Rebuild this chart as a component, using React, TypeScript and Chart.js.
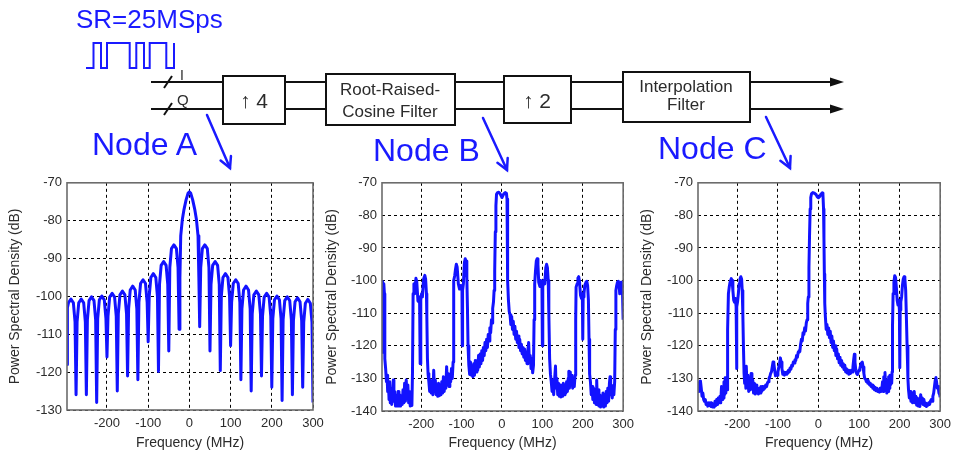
import { useEffect, useRef } from 'react';
import { Chart, registerables } from 'chart.js';

Chart.register(...registerables);

type Pt = [number, number];

// Frequency axis (MHz)
const FREQ_MIN = -297;
const FREQ_MAX = 300;
const freqTicks = [-200, -100, 0, 100, 200, 300];

// PSD axis limits (dB)
const psdMaxDb = -70;
const psdMinA = -130;
const psdMinBC = -140;

// Node A: NRZ symbols at 25 MSps, sinc-shaped spectrum with nulls every 25 MHz
const nodeA: Pt[] = [
  [-297, -118], [-296, -103], [-293.5, -101.7], [-287.5, -100.7], [-281.5, -101.7], [-277.5, -106.7], [-275, -126],
  [-272.5, -106.7], [-268.5, -101.7], [-262.5, -100.7], [-256.5, -101.7], [-252.5, -106.7], [-250, -126],
  [-247.5, -106.1], [-243.5, -101.1], [-237.5, -100.1], [-231.5, -101.1], [-227.5, -106.1], [-225, -128],
  [-222.5, -105.9], [-218.5, -100.9], [-212.5, -99.9], [-206.5, -100.9], [-202.5, -105.9], [-200, -116],
  [-197.5, -105.2], [-193.5, -100.2], [-187.5, -99.2], [-181.5, -100.2], [-177.5, -105.2], [-175, -125],
  [-172.5, -104.6], [-168.5, -99.6], [-162.5, -98.6], [-156.5, -99.6], [-152.5, -104.6], [-150, -121],
  [-147.5, -103.3], [-143.5, -98.3], [-137.5, -97.3], [-131.5, -98.3], [-127.5, -103.3], [-125, -122],
  [-122.5, -101.6], [-118.5, -96.6], [-112.5, -95.6], [-106.5, -96.6], [-102.5, -101.6], [-100, -112],
  [-97.5, -100], [-93.5, -95], [-87.5, -94], [-81.5, -95], [-77.5, -100], [-75, -119.8],
  [-72.5, -96.8], [-68.5, -91.8], [-62.5, -90.8], [-56.5, -91.8], [-52.5, -96.8], [-50, -114.4],
  [-47.5, -92.4], [-43.5, -87.4], [-37.5, -86.4], [-31.5, -87.4], [-27.5, -92.4], [-25, -108.7],
  [-23, -95], [-21, -84], [-17, -79.6], [-13, -77], [-8, -74.5], [-3, -72.7], [0, -72.4],
  [3, -72.7], [8, -74.5], [13, -77], [17, -79.6], [21, -84], [23, -95], [25, -108],
  [27.5, -92.4], [31.5, -87.4], [37.5, -86.4], [43.5, -87.4], [47.5, -92.4], [50, -114.4],
  [52.5, -96.8], [56.5, -91.8], [62.5, -90.8], [68.5, -91.8], [72.5, -96.8], [75, -119.6],
  [77.5, -100], [81.5, -95], [87.5, -94], [93.5, -95], [97.5, -100], [100, -113],
  [102.5, -101.6], [106.5, -96.6], [112.5, -95.6], [118.5, -96.6], [122.5, -101.6], [125, -122],
  [127.5, -103.3], [131.5, -98.3], [137.5, -97.3], [143.5, -98.3], [147.5, -103.3], [150, -125],
  [152.5, -104.6], [156.5, -99.6], [162.5, -98.6], [168.5, -99.6], [172.5, -104.6], [175, -121],
  [177.5, -105.2], [181.5, -100.2], [187.5, -99.2], [193.5, -100.2], [197.5, -105.2], [200, -124],
  [202.5, -105.9], [206.5, -100.9], [212.5, -99.9], [218.5, -100.9], [222.5, -105.9], [225, -127.5],
  [227.5, -106.1], [231.5, -101.1], [237.5, -100.1], [243.5, -101.1], [247.5, -106.1], [250, -126],
  [252.5, -106.4], [256.5, -101.4], [262.5, -100.4], [268.5, -101.4], [272.5, -106.4], [275, -124],
  [277.5, -106.8], [281.5, -101.8], [287.5, -100.8], [293.5, -101.8], [297.5, -106.8], [300, -128],
];

// Node B: after x4 upsampling and RRC filtering, images every 100 MHz
const nodeB: Pt[] = [
  [-297, -122], [-296.5, -100.8], [-295, -100.3], [-293.5, -102.5], [-292.5, -101], [-291, -104], [-290, -124],
  [-288, -127], [-286, -131], [-284.5, -129], [-283, -134], [-281, -132], [-279.5, -136.5], [-278, -131],
  [-276.5, -137.5], [-275, -133], [-273, -138], [-271, -135], [-269, -130.5], [-267.5, -137], [-265.5, -134],
  [-263.5, -138.5], [-261, -135.5], [-259, -138.5], [-257, -134], [-255, -138.5], [-253, -135], [-251, -138.5],
  [-249, -135.5], [-247, -138], [-245, -133.5], [-243, -137.5], [-241, -131.5], [-239, -137], [-237, -130.5],
  [-235, -136], [-233, -132], [-231, -137.5], [-229, -134], [-227, -138.5], [-225, -135], [-223, -138.3],
  [-221.5, -128], [-220, -104], [-218, -101], [-216, -104], [-213, -99.3], [-211, -100.2], [-208, -106.2],
  [-206, -106.5], [-204, -105], [-202.5, -125.5], [-201, -106], [-199, -104], [-197, -105], [-194, -99.5],
  [-191, -98.4], [-189, -99.5], [-187, -104], [-186, -111], [-184.5, -124], [-183, -128.5],
  [-181, -131], [-179, -134], [-177, -130.5], [-175, -134.5], [-173, -131.5], [-171, -135], [-169, -127.5],
  [-167, -134], [-165, -130.5], [-163, -135], [-161, -132], [-159, -135.5], [-157, -131.5], [-155, -135.3],
  [-153, -132], [-151, -135], [-149, -131], [-147, -134.5], [-145, -129.5], [-143, -134], [-141, -130],
  [-139, -133], [-137, -126.4], [-135, -132], [-133, -128.5], [-131, -132.5], [-129, -129.5], [-127, -131],
  [-125, -127], [-123, -130], [-121, -125],
  [-120, -112], [-119, -100], [-117, -98.5], [-115, -96.5], [-113, -95], [-111, -95.8], [-108, -101],
  [-105, -102.6], [-102, -101.5], [-99, -103], [-98.3, -120], [-97.5, -103], [-95.5, -101], [-93, -94.5],
  [-91, -93.3], [-89, -94], [-87, -99], [-85.5, -108], [-84, -120], [-82, -126],
  [-80, -128.8], [-78, -125], [-76, -129], [-74, -126.5], [-72, -129.5], [-70, -125.5], [-68, -129],
  [-66, -124.5], [-64, -128], [-62, -124.5], [-60, -127.5], [-58, -123], [-56, -126.5], [-54, -122.5],
  [-52, -125.5], [-50, -121.5], [-48, -124.5], [-46, -120.5], [-44, -123], [-42, -119], [-40, -121.5],
  [-38, -118], [-36, -120.5], [-34, -116.5], [-32, -118.5], [-30, -114.5], [-28, -116], [-26, -112],
  [-24.5, -113], [-23, -108.5], [-21, -106.5], [-19.5, -103], [-18, -97], [-16.5, -85], [-15, -77],
  [-13.5, -73.5], [-11, -73], [-8, -72.9], [-5, -73.3], [-2, -74], [0, -74.5], [2, -74], [5, -73.3],
  [8, -73], [11, -73.2], [12.5, -75], [13.5, -84], [14.5, -100], [16, -106], [18, -109.5], [20, -110.5],
  [22, -113.5], [24, -111], [26, -115], [28, -112.5], [30, -116.5], [32, -114], [34, -118], [36, -115.5],
  [38, -119], [40, -117], [42, -120.5], [44, -118], [46, -121.5], [48, -119.5], [50, -122.5], [52, -120.5],
  [54, -123.5], [56, -121], [58, -124.5], [60, -122], [62, -125.5], [64, -121.5], [66, -119], [68, -125],
  [70, -123], [72, -127], [74, -124], [76, -128.3], [78, -126],
  [79.5, -112], [81, -101], [83, -97], [85, -94], [87, -93.3], [89, -95], [91, -100.5], [94, -101.8],
  [96, -100], [99, -102], [100, -120], [101, -102], [103, -100], [106, -101], [108.5, -96], [110.5, -95],
  [112.5, -96], [114.5, -100], [116, -110], [118, -124], [120, -128.7],
  [122, -131], [124, -134], [126, -130.5], [128, -135], [130, -131], [132.5, -126.2], [134, -133],
  [136, -130], [138, -135], [140, -131.5], [142, -135.5], [144, -132], [146, -135.7], [148, -132.5],
  [150, -135.5], [152, -131.5], [154, -135], [156, -132], [158, -134.5], [160, -131], [162, -134],
  [164, -130], [165.5, -127.8], [167, -133], [169, -128], [171, -132], [173, -129], [175, -133],
  [177, -130], [179, -132.5], [181, -129],
  [182.5, -112], [183.5, -102], [186, -101], [188, -99.2], [190, -98.8], [192, -100.5], [194.5, -104.5],
  [197, -105.5], [199, -104], [200, -118], [201, -105], [203, -104], [205, -101.5], [208, -100.5],
  [210, -100.2], [212, -101.5], [214, -106], [215.5, -118], [217, -128.7],
  [219, -131], [221, -135], [223, -132.5], [225, -136.5], [227, -133], [229, -137.5], [231, -134],
  [233, -138], [234.5, -130.5], [236, -136.5], [238, -133.5], [240, -138.5], [242, -135], [244, -138.8],
  [246, -135.5], [248, -138.5], [250, -134.5], [252, -138.8], [254, -135], [256, -138.5], [258, -134],
  [260, -137.5], [262, -133], [264, -137], [266, -131.5], [267.5, -129.5], [269, -135], [271, -132],
  [273, -136], [275, -132.5], [277, -135], [279, -131],
  [280.5, -115], [282, -103], [284, -101.5], [286, -100.5], [288, -100.2], [290, -101.5], [291.5, -104],
  [293, -103], [295, -100.5], [297, -101.5], [298.5, -104], [300, -112],
];

// Node C: after x2 upsampling and the interpolation filter
const nodeC: Pt[] = [
  [-297, -134], [-295, -133], [-293, -131], [-291, -130.8], [-289, -133], [-287, -135.5], [-285, -134.5],
  [-283, -136.5], [-281, -137], [-279, -136.5], [-277, -138], [-275, -137.5], [-273, -138.5], [-271, -137.5],
  [-269, -138.3], [-267, -137.5], [-265, -138.6], [-263, -137.5], [-261, -138.8], [-259, -138], [-257, -138.8],
  [-255, -137], [-253, -138.3], [-251, -136.5], [-249, -138], [-247, -136], [-245, -137.5], [-243, -135.5],
  [-241, -137.5], [-239, -132.5], [-237.5, -136.5], [-236, -133], [-234.5, -136], [-233, -131], [-231.5, -135],
  [-230, -129.8], [-228.5, -134.5], [-227, -130.5], [-225.5, -133.5], [-224.5, -128.5],
  [-223.5, -115], [-222, -104], [-220, -102], [-218, -100.5], [-215, -99.4], [-213, -100], [-211, -103],
  [-209, -106], [-207, -106.6], [-205, -105.5], [-203, -108], [-202, -127], [-201, -108], [-199.5, -106.5],
  [-197.5, -104], [-195.5, -101], [-193.5, -99.5], [-191.5, -98.8], [-189.5, -99.5], [-188, -103],
  [-186.5, -110], [-185, -120], [-183.5, -128.3],
  [-182, -131.5], [-180.5, -129], [-179, -133], [-178, -126.3], [-176, -132.5], [-174, -129], [-172, -134],
  [-170, -130], [-168, -133.5], [-166, -128.5], [-164, -133], [-162, -130.5], [-160, -134.5], [-158, -131.5],
  [-156, -134.8], [-154, -132], [-152, -134.5], [-150, -133.5], [-148, -134.8], [-146, -133], [-144, -134.5],
  [-142, -132.5], [-140, -134], [-138, -132.5], [-136, -133.5], [-134, -132.5], [-132, -133], [-130, -132],
  [-128, -132.5], [-126, -131.5], [-124, -131], [-122, -130], [-120, -129.5], [-118, -128.5], [-116, -128],
  [-114, -126.5], [-112, -125], [-110, -125.5], [-108, -127.5], [-106, -129.2], [-104, -128.5], [-102, -129],
  [-100, -128], [-98, -126.7], [-96, -125.5], [-94, -123.7], [-92, -125], [-90, -127], [-88, -128.7],
  [-86, -128], [-84, -129], [-82, -128.2], [-80, -128.7], [-78, -128], [-76, -128.5], [-74, -127.5],
  [-72, -128], [-70, -126.8], [-68, -127.2], [-66, -126], [-64, -126.2], [-62, -125], [-60, -125.3],
  [-58, -124.3], [-56, -124.5], [-54, -123], [-52, -123.5], [-50, -122], [-48, -121.5], [-46, -121.8],
  [-44, -119.5], [-42, -118], [-40, -118.5], [-38, -116], [-36, -116.5], [-34, -114.5], [-32, -115.5],
  [-30, -113], [-28, -112], [-26.5, -107], [-25, -105], [-23.5, -96], [-22, -86], [-20.5, -78], [-19, -74.5],
  [-17, -73.3], [-14, -73], [-10, -73.2], [-6, -73.6], [-3, -74.3], [0, -74.6], [3, -74.2], [6, -73.5],
  [9, -73.1], [11, -73.5], [12.5, -78], [13.5, -87], [14.5, -98], [15.5, -107], [17, -111], [19, -115],
  [21, -113.5], [23, -116.5], [25, -114.5], [27, -117.5], [29, -115.5], [31, -119], [33, -117], [35, -120.5],
  [37, -118.5], [39, -121.5], [41, -120], [43, -123], [45, -121], [47, -124], [49, -122.5], [51, -125.2],
  [53, -123.5], [55, -126], [57, -124.5], [59, -126.5], [61, -125.5], [63, -127.3], [65, -126], [67, -128],
  [69, -127], [71, -128.3], [73, -127.5], [75, -128.7], [77, -128], [79, -128.5], [81, -127.5], [83, -128],
  [85, -126.5], [87, -124], [88.5, -122.6], [90, -125], [92, -127.5], [94, -128.5], [96, -128.8], [98, -128],
  [100, -127.5], [102, -127], [104, -126], [106, -125.3], [108, -125], [110, -126.5], [112, -128.5],
  [114, -130], [116, -130.2], [118, -131], [120, -130.5], [122, -131.5], [124, -131], [126, -132],
  [128, -131.5], [130, -132.5], [132, -132], [134, -133], [136, -132.3], [138, -133.5], [140, -132.8],
  [142, -133.8], [144, -133], [146, -134], [148, -133.5], [150, -134.2], [152, -133], [154, -134],
  [156, -133.5], [158, -131], [159.5, -134], [161, -129.5], [162.5, -133.5], [164, -128.2], [165.5, -133],
  [167, -131], [168.5, -134.5], [170, -130.5], [171.5, -134], [173, -129.5], [174.5, -133], [176, -129],
  [177.5, -132], [179, -130], [180.5, -131.5], [181.5, -128],
  [182.5, -114], [184, -104], [186, -100.5], [188, -98.5], [190, -99], [192, -102], [194, -106],
  [196, -107.5], [198, -106], [199.5, -109], [200.5, -126.7], [201.5, -109], [203, -106.5], [205, -105],
  [207, -101.5], [209, -99.5], [211, -98.8], [213, -99.5], [215, -103], [216.5, -110], [218.5, -120],
  [220.5, -130],
  [222, -133.5], [224, -136], [226, -134], [228, -137], [230, -134.5], [232, -137.5], [234, -135],
  [236, -134], [238, -137.5], [240, -135.5], [242, -138.2], [244, -136], [246, -138.5], [248, -136.5],
  [250, -138.6], [252, -135], [254, -137.5], [256, -136], [258, -138], [260, -136.5], [262, -138.3],
  [264, -137.5], [266, -138.6], [268, -137.8], [270, -138.2], [272, -137.5], [274, -138], [276, -137],
  [278, -136.5], [280, -137], [282, -135.5], [284, -134.5], [286, -132.5], [288, -130.5], [289.5, -129.7],
  [291, -131], [293, -133], [295, -132.5], [297, -134.5], [299, -135], [300, -135.8],
];

const FONT = '"Liberation Sans", Arial, Helvetica, sans-serif';
const TRACE = '#1212ff';
const INK = '#2b2b2b';
const DIAGRAM_BLUE = '#1a1aff';

type PanelBox = {
  left: number;
  top: number;
  width: number;
  height: number;
  yAxisWidth: number;
  xAxisHeight: number;
  padTop: number;
  padRight: number;
};

// Grey MATLAB-style box around the plot area
const axesFrame = {
  id: 'axesFrame',
  afterDraw(chart: Chart) {
    const { ctx, chartArea } = chart;
    const { left, top, right, bottom } = chartArea;
    ctx.save();
    ctx.strokeStyle = '#6c6c6c';
    ctx.lineWidth = 1.6;
    ctx.strokeRect(left, top, right - left, bottom - top);
    ctx.restore();
  },
};

function PsdPanel({ points, yMin, box }: { points: Pt[]; yMin: number; box: PanelBox }) {
  const ref = useRef<HTMLCanvasElement>(null);

  useEffect(() => {
    if (!ref.current) return;
    const chart = new Chart(ref.current, {
      type: 'line',
      data: {
        datasets: [
          {
            data: points.map(([x, y]) => ({ x, y })),
            borderColor: TRACE,
            borderWidth: 3,
            pointRadius: 0,
            tension: 0,
            fill: false,
            borderJoinStyle: 'round',
          },
        ],
      },
      options: {
        responsive: false,
        animation: false,
        events: [],
        layout: { padding: { left: 0, top: box.padTop, right: box.padRight, bottom: 0 } },
        plugins: { legend: { display: false }, tooltip: { enabled: false } },
        scales: {
          x: {
            type: 'linear',
            min: FREQ_MIN,
            max: FREQ_MAX,
            afterBuildTicks: (scale: any) => {
              scale.ticks = freqTicks.map((value) => ({ value }));
            },
            afterFit: (scale: any) => {
              scale.height = box.xAxisHeight;
            },
            grid: { color: '#000', lineWidth: 1, drawTicks: false },
            border: { display: false, dash: [3, 3] },
            ticks: {
              color: INK,
              font: { family: FONT, size: 13 },
              padding: 6,
              maxRotation: 0,
              autoSkip: false,
            },
            title: {
              display: true,
              text: 'Frequency (MHz)',
              color: INK,
              font: { family: FONT, size: 14 },
              padding: { top: 4, bottom: 2 },
            },
          },
          y: {
            type: 'linear',
            min: yMin,
            max: psdMaxDb,
            afterFit: (scale: any) => {
              scale.width = box.yAxisWidth;
            },
            grid: { color: '#000', lineWidth: 1, drawTicks: false },
            border: { display: false, dash: [3, 3] },
            ticks: {
              stepSize: 10,
              color: INK,
              font: { family: FONT, size: 13 },
              padding: 5,
            },
            title: {
              display: true,
              text: 'Power Spectral Density (dB)',
              color: INK,
              font: { family: FONT, size: 14 },
              padding: { top: 4, bottom: 4 },
            },
          },
        },
      },
      plugins: [axesFrame],
    });
    return () => chart.destroy();
  }, [points, yMin, box]);

  return (
    <canvas
      ref={ref}
      width={box.width}
      height={box.height}
      style={{ position: 'absolute', left: box.left, top: box.top }}
    />
  );
}

const boxA: PanelBox = { left: 3, top: 170, width: 327, height: 284, yAxisWidth: 64, xAxisHeight: 44, padTop: 10, padRight: 17 };
const boxB: PanelBox = { left: 320, top: 170, width: 320, height: 284, yAxisWidth: 62, xAxisHeight: 43, padTop: 10, padRight: 12 };
const boxC: PanelBox = { left: 635, top: 170, width: 322, height: 284, yAxisWidth: 63, xAxisHeight: 43, padTop: 10, padRight: 12 };

// Slanted pointer with an open arrow head
function Pointer({ x1, y1, x2, y2 }: { x1: number; y1: number; x2: number; y2: number }) {
  const len = Math.hypot(x2 - x1, y2 - y1);
  const ux = (x1 - x2) / len;
  const uy = (y1 - y2) / len;
  const a = (28 * Math.PI) / 180;
  const h = 12;
  const p1 = [x2 + h * (ux * Math.cos(a) - uy * Math.sin(a)), y2 + h * (ux * Math.sin(a) + uy * Math.cos(a))];
  const p2 = [x2 + h * (ux * Math.cos(a) + uy * Math.sin(a)), y2 + h * (-ux * Math.sin(a) + uy * Math.cos(a))];
  return (
    <g stroke={DIAGRAM_BLUE} strokeWidth={2.5} fill="none" strokeLinecap="round">
      <line x1={x1} y1={y1} x2={x2} y2={y2} />
      <polyline points={`${p1[0]},${p1[1]} ${x2},${y2} ${p2[0]},${p2[1]}`} />
    </g>
  );
}

const railI = 82;
const railQ = 109;
const railSegments: [number, number][] = [
  [151, 223],
  [285, 326],
  [455, 504],
  [571, 623],
  [750, 832],
];

function BlockDiagram() {
  const boxStroke = { stroke: '#111', strokeWidth: 2, fill: '#fff' };
  const label = { fontFamily: FONT, fill: INK, textAnchor: 'middle' as const };
  return (
    <svg width={957} height={180} style={{ position: 'absolute', left: 0, top: 0 }}>
      <text x={76} y={28} fontFamily={FONT} fontSize={26} fill={DIAGRAM_BLUE}>
        SR=25MSps
      </text>
      <polyline
        points="86,68 93.5,68 93.5,43 101,43 101,68 107,68 107,43 129.7,43 129.7,68 136.3,68 136.3,43 144,43 144,68 149.7,68 149.7,43 166.3,43 166.3,68 174,68 174,43"
        stroke={DIAGRAM_BLUE}
        strokeWidth={2}
        fill="none"
      />

      <g stroke="#111" strokeWidth={2}>
        {railSegments.map(([a, b]) => (
          <line key={`i${a}`} x1={a} y1={railI} x2={b} y2={railI} />
        ))}
        {railSegments.map(([a, b]) => (
          <line key={`q${a}`} x1={a} y1={railQ} x2={b} y2={railQ} />
        ))}
        <line x1={164} y1={88} x2={172} y2={76} />
        <line x1={164} y1={115} x2={172} y2={103} />
      </g>
      <polygon points={`844,${railI} 830,${railI - 4.5} 830,${railI + 4.5}`} fill="#111" />
      <polygon points={`844,${railQ} 830,${railQ - 4.5} 830,${railQ + 4.5}`} fill="#111" />
      <text x={180} y={80} fontFamily={FONT} fontSize={14} fill={INK}>
        I
      </text>
      <text x={177} y={105} fontFamily={FONT} fontSize={15} fill={INK}>
        Q
      </text>

      <rect x={223} y={76} width={62} height={48} {...boxStroke} />
      <text x={254} y={108} fontSize={21} {...label}>
        ↑ 4
      </text>

      <rect x={326} y={74} width={129} height={51} {...boxStroke} />
      <text x={390} y={95} fontSize={17} {...label}>
        Root-Raised-
      </text>
      <text x={390} y={116.5} fontSize={17} {...label}>
        Cosine Filter
      </text>

      <rect x={504} y={76} width={67} height={47} {...boxStroke} />
      <text x={537} y={108} fontSize={21} {...label}>
        ↑ 2
      </text>

      <rect x={623} y={72} width={127} height={50} {...boxStroke} />
      <text x={686} y={92} fontSize={17} {...label}>
        Interpolation
      </text>
      <text x={686} y={109.5} fontSize={17} {...label}>
        Filter
      </text>

      <text x={92} y={155} fontFamily={FONT} fontSize={32} fill={DIAGRAM_BLUE}>
        Node A
      </text>
      <text x={373} y={161} fontFamily={FONT} fontSize={32} fill={DIAGRAM_BLUE}>
        Node B
      </text>
      <text x={658} y={159} fontFamily={FONT} fontSize={32} fill={DIAGRAM_BLUE}>
        Node C
      </text>
      <Pointer x1={207} y1={115} x2={230} y2={168} />
      <Pointer x1={483} y1={118} x2={507} y2={170} />
      <Pointer x1={766} y1={117} x2={790} y2={168} />
    </svg>
  );
}

export default function App() {
  return (
    <div
      style={{
        position: 'absolute',
        left: 0,
        top: 0,
        width: 957,
        height: 454,
        overflow: 'hidden',
        background: '#fff',
      }}
    >
      <PsdPanel points={nodeA} yMin={psdMinA} box={boxA} />
      <PsdPanel points={nodeB} yMin={psdMinBC} box={boxB} />
      <PsdPanel points={nodeC} yMin={psdMinBC} box={boxC} />
      <BlockDiagram />
    </div>
  );
}
